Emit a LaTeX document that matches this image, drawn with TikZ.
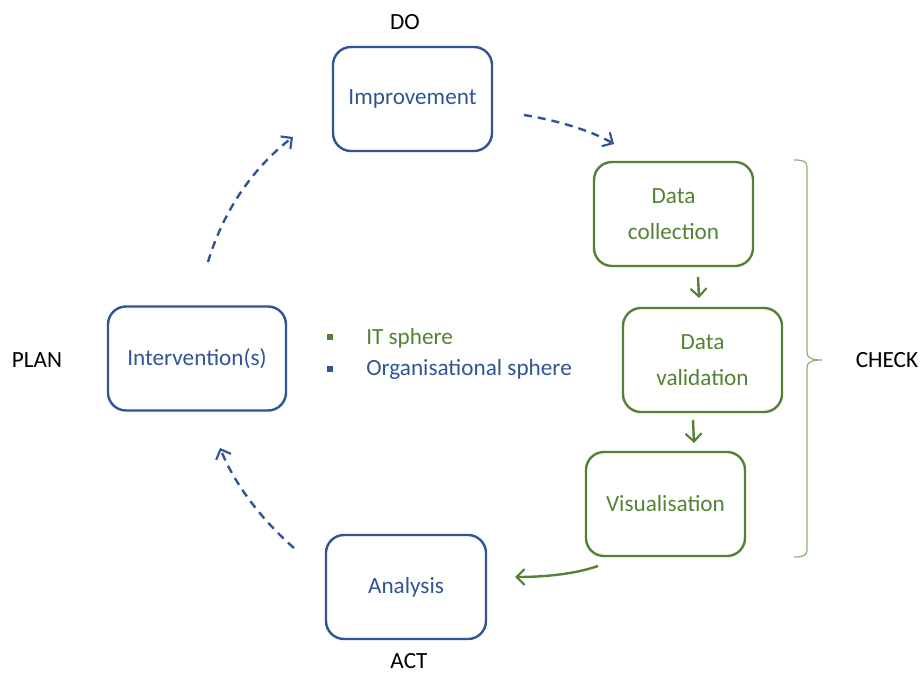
\documentclass[tikz,border=0pt]{standalone}
\usepackage{fontspec}
\setmainfont{Carlito}
\usetikzlibrary{arrows.meta}
\definecolor{pdblue}{HTML}{2F5597}
\definecolor{pdgreen}{HTML}{548235}
\definecolor{bracegreen}{HTML}{8CB070}
\tikzset{
  box/.style={draw, line width=1.8pt, rounded corners=13.5pt, align=center,
    font=\fontsize{17.4}{27}\selectfont, minimum width=119.25pt, minimum height=78pt, inner sep=2pt},
  bluebox/.style={box, draw=pdblue, text=pdblue},
  greenbox/.style={box, draw=pdgreen, text=pdgreen},
  phase/.style={font=\fontsize{17.4}{21}\selectfont, text=black, inner sep=0pt},
  legend/.style={font=\fontsize{17.4}{21}\selectfont, anchor=west, inner sep=0pt},
  dasharrow/.style={draw=pdblue, line width=1.8pt, dash pattern=on 6pt off 4.5pt,
    -{Straight Barb[length=6pt,width=12pt,line width=1.6pt]}},
  solidarrow/.style={draw=pdgreen, line width=1.8pt,
    -{Straight Barb[length=6pt,width=12pt,line width=1.6pt]}}
}
\begin{document}
\begin{tikzpicture}[x=0.75pt,y=-0.75pt]
\useasboundingbox (0,0) rectangle (921,673);

% process boxes
\node[bluebox] (imp) at (412.5,99) {Improvement};
\node[greenbox] (dc) at (673.5,214) {Data\\collection};
\node[greenbox] (dv) at (702.5,360) {Data\\validation};
\node[greenbox] (vis) at (665.5,504) {Visualisation};
\node[bluebox, minimum width=120pt] (ana) at (406,587) {Analysis};
\node[bluebox, minimum width=133.5pt] (int) at (197,358.5) {Intervention(s)};

% PDCA phase labels
\node[phase] (do) at (405,22) {DO};
\node[phase] (plan) at (37,360) {PLAN};
\node[phase] (act) at (409,661) {ACT};
\node[phase] (check) at (887,360) {CHECK};

% legend
\node[fill=pdgreen, minimum size=5pt, inner sep=0pt] (lg) at (330,337) {};
\node[fill=pdblue, minimum size=5pt, inner sep=0pt] (lb) at (330,369) {};
\node[legend, text=pdgreen] (lgt) at (366,338) {IT sphere};
\node[legend, text=pdblue] (lbt) at (366,369) {Organisational sphere};

% free ends of the cycle arrows
\coordinate (p1s) at (208,262);
\coordinate (p1e) at (293,137);
\coordinate (p2s) at (524,115);
\coordinate (p2e) at (614,144);
\coordinate (p3s) at (294,548);
\coordinate (p3e) at (220,448);
\coordinate (g1s) at (698,277);
\coordinate (g1e) at (699,298);
\coordinate (g2s) at (693,420);
\coordinate (g2e) at (694,443);
\coordinate (g3s) at (598,566);
\coordinate (g3e) at (515,577);

% cycle arrows
\draw[dasharrow] (p1s) .. controls (222,215) and (250,170) .. (p1e);
\draw[dasharrow] (p2s) .. controls (555,120) and (590,130) .. (p2e);
\draw[dasharrow] (p3s) .. controls (262,520) and (235,485) .. (p3e);
\draw[solidarrow] (g1s) -- (g1e);
\draw[solidarrow] (g2s) -- (g2e);
\draw[solidarrow] (g3s) .. controls (575,574) and (545,577) .. (g3e);

% brace grouping the check steps
\coordinate (bt) at (794,160);
\coordinate (bm) at (822,360);
\coordinate (bb) at (794,557);
\draw[bracegreen, line width=0.9pt]
  (bt) .. controls (803,160) and (807,161) .. (807,168)
  -- (807,352) .. controls (807,358) and (811,360) .. (bm)
  .. controls (811,360) and (807,362) .. (807,368)
  -- (807,549) .. controls (807,556) and (803,557) .. (bb);
\end{tikzpicture}
\end{document}
